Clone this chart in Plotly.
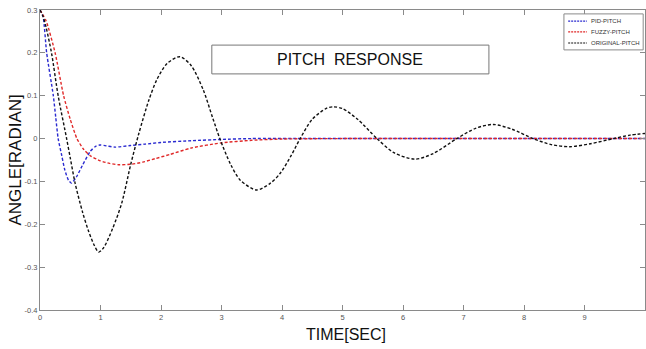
import plotly.graph_objects as go

# ---- data ----
pid_t = [0, 0.05, 0.11, 0.22, 0.26, 0.30, 0.36, 0.41, 0.47, 0.52, 0.60, 0.70, 0.83, 0.92, 0.99,
         1.10, 1.24, 1.50, 1.74, 2.00, 2.50, 3.00, 3.50, 4.5, 6, 8, 10]
pid_v = [0.30, 0.285, 0.20, 0.10, 0.05, 0.0, -0.04, -0.073, -0.097, -0.104, -0.09, -0.063, -0.03,
         -0.018, -0.015, -0.017, -0.02, -0.016, -0.013, -0.009, -0.005, -0.002, 0.0, 0.0, 0.0, 0.0, 0.0]

fuzzy_t = [0, 0.1, 0.25, 0.39, 0.50, 0.61, 0.72, 0.83, 1.0, 1.15, 1.30, 1.50, 1.70, 1.90, 2.15,
           2.50, 3.00, 3.50, 4.00, 5, 7, 10]
fuzzy_v = [0.30, 0.275, 0.20, 0.10, 0.045, 0.0, -0.025, -0.04, -0.052, -0.058, -0.061, -0.06,
           -0.055, -0.047, -0.037, -0.022, -0.01, -0.004, -0.001, 0.0, 0.0, 0.0]

orig_t = [0, 0.05, 0.10, 0.19, 0.30, 0.44, 0.50, 0.58, 0.70, 0.80, 0.90, 0.97, 1.05, 1.20, 1.35,
          1.50, 1.63, 1.80, 1.93, 2.10, 2.31, 2.50, 2.70, 2.85, 2.98, 3.15, 3.31, 3.58, 3.80,
          3.97, 4.15, 4.30, 4.50, 4.74, 4.85, 5.00, 5.25, 5.57, 5.85, 6.20, 6.50, 6.89, 7.20,
          7.49, 7.80, 8.15, 8.45, 8.76, 9.10, 9.48, 9.75, 10.0]
orig_v = [0.30, 0.285, 0.26, 0.20, 0.10, 0.0, -0.045, -0.104, -0.17, -0.215, -0.25, -0.265,
          -0.255, -0.21, -0.151, -0.06, 0.01, 0.09, 0.137, 0.175, 0.191, 0.17, 0.113, 0.05,
          -0.003, -0.06, -0.097, -0.12, -0.105, -0.081, -0.04, 0.0, 0.045, 0.071, 0.074, 0.07,
          0.045, 0.0, -0.033, -0.048, -0.035, 0.0, 0.024, 0.033, 0.022, 0.0, -0.014, -0.019,
          -0.012, 0.0, 0.008, 0.012]

series_names = ["PID-PITCH", "FUZZY-PITCH", "ORIGINAL-PITCH"]
series_colors = ["#2a2ad0", "#e02828", "#111111"]

x_ticks = [0, 1, 2, 3, 4, 5, 6, 7, 8, 9, 10]
y_ticks = [0.3, 0.2, 0.1, 0, -0.1, -0.2, -0.3, -0.4]
y_tick_text = ["0.3", "0.2", "0.1", "0", "-0.1", "-0.2", "-0.3", "-0.4"]

FONT = "Liberation Sans, Arial, sans-serif"
DASH = "3px,2px"

fig = go.Figure()
series = [(pid_t, pid_v, 0.6), (fuzzy_t, fuzzy_v, 0.6), (orig_t, orig_v, 0.8)]
for (tt, vv, sm), name, col in zip(series, series_names, series_colors):
    fig.add_trace(go.Scatter(x=tt, y=vv, mode="lines", name=name, showlegend=False,
                             hoverinfo="skip",
                             line=dict(color=col, width=1.4, dash=DASH, shape="spline", smoothing=sm)))

axis_common = dict(showline=True, linecolor="#8a8a8a", linewidth=1, mirror="ticks",
                   ticks="inside", ticklen=5, tickcolor="#8a8a8a", showgrid=False, zeroline=False,
                   automargin=False,
                   tickfont=dict(family=FONT, size=7.5, color="#555555"))

fig.update_xaxes(range=[0, 10], tickvals=x_ticks, **axis_common)
fig.update_yaxes(range=[-0.4, 0.3], tickvals=y_ticks, ticktext=y_tick_text, **axis_common)

# manual compact legend (box, dashed samples, labels)
shapes = [dict(type="rect", xref="paper", yref="paper",
               x0=0.284, x1=0.742, y0=0.787, y1=0.883,
               line=dict(color="#777777", width=1), fillcolor="white", layer="above"),
          dict(type="rect", xref="paper", yref="paper",
               x0=0.866, x1=0.997, y0=0.867, y1=0.987,
               line=dict(color="#8a8a8a", width=1), fillcolor="white", layer="above")]
annotations = []
legend_rows = [0.963, 0.927, 0.89]
for name, col, yy in zip(series_names, series_colors, legend_rows):
    shapes.append(dict(type="line", xref="paper", yref="paper", x0=0.873, x1=0.904, y0=yy, y1=yy,
                       line=dict(color=col, width=1.2, dash="2px,1px"), layer="above"))
    annotations.append(dict(text=name, xref="paper", yref="paper", x=0.907, y=yy,
                            showarrow=False, xanchor="left", yanchor="middle",
                            font=dict(family=FONT, size=6, color="#333333")))

annotations += [
    dict(text="PITCH  RESPONSE", xref="paper", yref="paper", x=0.513, y=0.835,
         showarrow=False, xanchor="center", yanchor="middle",
         font=dict(family=FONT, size=16, color="#111111")),
    dict(text="ANGLE[RADIAN]", xref="paper", yref="paper", x=-0.042, y=0.5,
         showarrow=False, textangle=-90, xanchor="center", yanchor="middle",
         font=dict(family=FONT, size=17, color="#111111")),
    dict(text="TIME[SEC]", xref="paper", yref="paper", x=0.506, y=-0.083,
         showarrow=False, xanchor="center", yanchor="middle",
         font=dict(family=FONT, size=16, color="#111111")),
]

fig.update_layout(
    width=646, height=349,
    margin=dict(l=40, r=1, t=10, b=39),
    paper_bgcolor="white", plot_bgcolor="white",
    showlegend=False,
    hovermode=False,
    shapes=shapes,
    annotations=annotations,
)

fig.write_html("out.html", config={"displayModeBar": False, "staticPlot": True},
               post_script="document.body.style.margin='0';document.body.style.overflow='hidden';")
